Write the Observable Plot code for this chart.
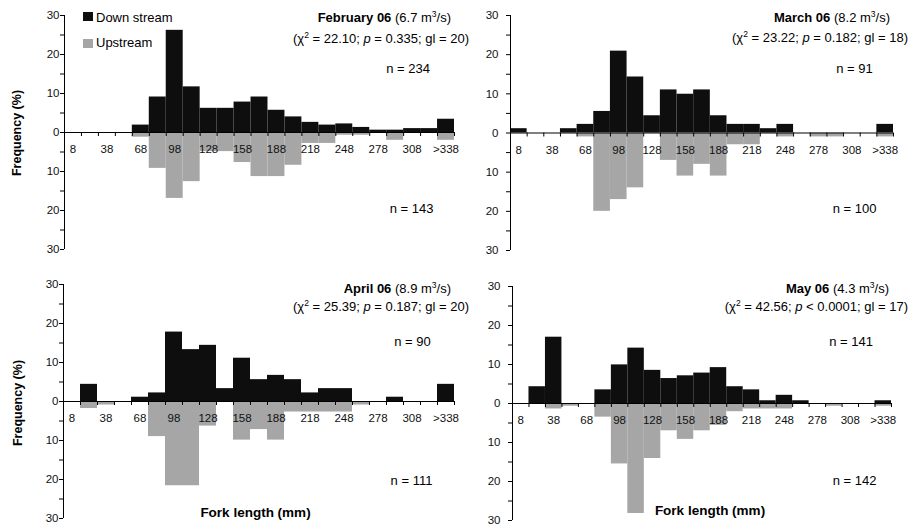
<!DOCTYPE html>
<html>
<head>
<meta charset="utf-8">
<script src="https://cdn.jsdelivr.net/npm/d3@7"></script>
<script src="https://cdn.jsdelivr.net/npm/@observablehq/plot@0.6"></script>
<style>
  html, body { margin: 0; padding: 0; background: #fff; }
  body { font-family: "Liberation Sans", Arial, sans-serif; }
  #root { position: relative; width: 912px; height: 531px; overflow: hidden; background: #fff; }
  .panel { position: absolute; }
  .panel svg { background: transparent !important; overflow: visible; }
  .t { position: absolute; white-space: nowrap; color: #000; font-size: 13px; line-height: 15px; transform: translateY(-50%); z-index: 5; }
  .t sup { font-size: 8.5px; vertical-align: 0; position: relative; top: -5px; line-height: 0; }
  .sw { position: absolute; z-index: 5; }
</style>
</head>
<body>
<div id="root"></div>
<script>
// ---------------- DATA ----------------
// fork-length classes (mm, class centres, 15-mm bins); last class is ">338"
const classes = [8,23,38,53,68,83,98,113,128,143,158,173,188,203,218,233,248,263,278,293,308,323,338];
const tickLabels = ["8","38","68","98","128","158","188","218","248","278","308",">338"];

// Frequencies (%) per class
const febDown = [0,0,0,0,1.9,9.1,26.2,11.7,6.2,6.2,7.8,9.1,5.7,4.0,2.6,1.9,2.2,1.3,0.6,0.6,1.0,1.0,3.4];
const febUp   = [0,0,0,0,1.2,9.2,16.9,12.6,4.9,4.9,7.7,11.3,11.3,8.4,2.8,2.8,0.7,0.7,0,2.0,0,0,2.0];
const marDown = [1.1,0,0,1.1,2.2,5.5,20.9,14.3,4.4,11.0,9.9,11.0,4.4,2.2,2.2,1.1,2.2,0,0,0,0,0,2.2];
const marUp   = [0,0,0,0,1,20,17,14,0,7,11,8,11,3,3,0,1,0,1,1,0,0,1];
const aprDown = [0,4.4,0,0,1.1,2.2,17.8,13.3,14.4,3.3,11.1,5.6,6.7,5.6,2.2,3.3,3.3,0,0,1.1,0,0,4.4];
const aprUp   = [0,1.8,0.9,0,0,9.0,21.6,21.6,6.3,0,9.9,7.2,9.9,2.7,2.7,2.7,2.7,0.9,0,0,0,0,0];
const mayDown = [0,4.3,17.0,0,0,3.5,9.9,14.2,8.5,6.4,7.1,7.8,9.2,4.3,3.5,0.7,2.1,0.7,0,0,0,0,0.7];
const mayUp   = [0,0,1.4,0.7,0,3.5,15.5,28.2,14.1,7.0,9.2,7.0,5.6,2.1,1.4,1.4,1.4,0,0,0.7,0,0,0.7];

const months = ["February 06","March 06","April 06","May 06"];
const flows  = ["6.7","8.2","8.9","4.3"];
const chi2   = ["22.10","23.22","25.39","42.56"];
const pvals  = ["= 0.335","= 0.182","= 0.187","< 0.0001"];
const gls    = [20,18,20,17];
const nDown  = [234,91,90,141];
const nUp    = [143,100,111,142];

const yMajor = [-30,-20,-10,0,10,20,30];
const yMinor = [-25,-15,-5,5,15,25];
const seriesNames = ["Down stream","Upstream"];

// ---------------- LAYOUT ----------------
const BLACK = "#0e0e0e", GRAY = "#a6a6a6";
const layout = [
  {left:0,   top:0,   w:456, h:265, mT:15, mR:2,  mB:16, mL:64, lab:-5,
   t1:{r:451, cy:17}, t2:{r:469, cy:37.5}, nd:{cx:408, cy:67.5}, nu:{cx:411.5, cy:207.5}},
  {left:456, top:0,   w:456, h:265, mT:15, mR:19, mB:15, mL:54, lab:-12,
   t1:{r:890, cy:17}, t2:{r:908, cy:36.5}, nd:{cx:854.5, cy:67.5}, nu:{cx:854.5, cy:208}},
  {left:0,   top:265, w:456, h:266, mT:19, mR:2,  mB:13, mL:63, lab:-5,
   t1:{r:451, cy:287.5}, t2:{r:469, cy:306}, nd:{cx:412.5, cy:341}, nu:{cx:411.5, cy:479.5}},
  {left:456, top:265, w:456, h:266, mT:21, mR:21, mB:11, mL:56, lab:-12,
   t1:{r:889, cy:288}, t2:{r:908, cy:306}, nd:{cx:851, cy:340.5}, nu:{cx:854.5, cy:480}}
];
const downs = [febDown, marDown, aprDown, mayDown];
const ups = [febUp, marUp, aprUp, mayUp];

const root = document.getElementById("root");
const boundaries = d3.range(1, classes.length + 1);

layout.forEach((L, k) => {
  const down = classes.map((c, i) => ({i, v: downs[k][i]})).filter(d => d.v > 0);
  const up = classes.map((c, i) => ({i, v: ups[k][i]})).filter(d => d.v > 0);
  const labs = tickLabels.map((t, j) => ({pos: 2 * j + 0.5, t}));
  const plot = Plot.plot({
    width: L.w, height: L.h,
    marginTop: L.mT, marginRight: L.mR, marginBottom: L.mB, marginLeft: L.mL,
    style: {fontFamily: '"Liberation Sans", Arial, sans-serif', background: "transparent", color: "#000"},
    x: {type: "linear", domain: [0, classes.length], axis: null},
    y: {type: "linear", domain: [-30, 30], axis: null},
    marks: [
      Plot.rect(down, {x1: "i", x2: d => d.i + 1, y1: 0, y2: "v", fill: BLACK}),
      Plot.rect(up, {x1: "i", x2: d => d.i + 1, y1: 0, y2: d => -d.v, fill: GRAY}),
      // x axis line at zero + downward ticks at class boundaries
      Plot.ruleY([0], {x1: 0, x2: classes.length, stroke: "#000", strokeWidth: 1}),
      Plot.ruleX(boundaries, {x: d => d, y1: 0, y2: 0, insetBottom: -4, stroke: "#000", strokeWidth: 1}),
      Plot.text(labs, {x: "pos", y: 0, text: "t", dy: 17, fontSize: 11.5, fill: "#111"}),
      // y axis
      Plot.ruleX([0], {y1: -30, y2: 30, stroke: "#000", strokeWidth: 1}),
      Plot.ruleY(yMajor, {y: d => d, x1: 0, x2: 0, insetLeft: -4, stroke: "#000"}),
      Plot.ruleY(yMinor, {y: d => d, x1: 0, x2: 0, insetLeft: -4, stroke: "#000"}),
      Plot.text(yMajor, {x: 0, y: d => d, text: d => String(Math.abs(d)), textAnchor: "end", dx: L.lab, fontSize: 11.5, fill: "#111"})
    ]
  });
  const div = document.createElement("div");
  div.className = "panel";
  div.style.left = L.left + "px";
  div.style.top = L.top + "px";
  div.appendChild(plot);
  root.appendChild(div);

  // annotations
  const add = (html, css) => {
    const e = document.createElement("div");
    e.className = "t";
    e.innerHTML = html;
    Object.assign(e.style, css);
    root.appendChild(e);
    return e;
  };
  add(`<b>${months[k]}</b> (${flows[k]} m<sup>3</sup>/s)`, {right: (912 - L.t1.r) + "px", top: L.t1.cy + "px"});
  add(`(χ<sup>2</sup> = ${chi2[k]}; <i>p</i> ${pvals[k]}; gl = ${gls[k]})`, {right: (912 - L.t2.r) + "px", top: L.t2.cy + "px"});
  const a = add(`n = ${nDown[k]}`, {left: L.nd.cx + "px", top: L.nd.cy + "px"});
  a.style.transform = "translate(-50%,-50%)";
  const b = add(`n = ${nUp[k]}`, {left: L.nu.cx + "px", top: L.nu.cy + "px"});
  b.style.transform = "translate(-50%,-50%)";
});

// axis titles
function addTitle(text, cx, cy, rot, size) {
  const e = document.createElement("div");
  e.className = "t";
  e.style.fontWeight = "bold";
  e.style.fontSize = size + "px";
  e.style.left = cx + "px";
  e.style.top = cy + "px";
  e.style.transform = `translate(-50%,-50%)${rot ? " rotate(-90deg)" : ""}`;
  e.textContent = text;
  root.appendChild(e);
}
addTitle("Frequency (%)", 16.7, 132.5, true, 12.5);
addTitle("Frequency (%)", 18, 402.5, true, 12.5);
addTitle("Fork length (mm)", 255.5, 511.7, false, 13.5);
addTitle("Fork length (mm)", 710, 509.5, false, 13.5);

// legend (top-left of first panel)
[[BLACK, 12, 16.7], [GRAY, 38.5, 42]].forEach(([c, sy, ty], j) => {
  const s = document.createElement("div");
  s.className = "sw";
  Object.assign(s.style, {left: "83px", top: sy + "px", width: "10px", height: "9px", background: c});
  root.appendChild(s);
  const e = document.createElement("div");
  e.className = "t";
  e.textContent = seriesNames[j];
  Object.assign(e.style, {left: "96px", top: ty + "px"});
  root.appendChild(e);
});
</script>
</body>
</html>
